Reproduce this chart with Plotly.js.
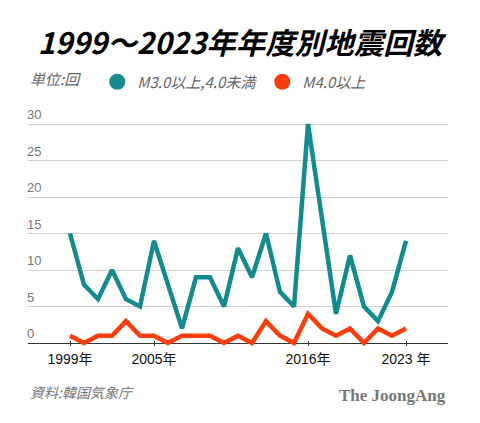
<!DOCTYPE html>
<html>
<head>
<meta charset="utf-8">
<script src="https://cdn.plot.ly/plotly-3.0.1.min.js"></script>
<style>
html,body{margin:0;padding:0;background:#fff;}
#chart{width:480px;height:423px;}
</style>
</head>
<body>
<div id="chart"></div>
<script>
const years = [1999,2000,2001,2002,2003,2004,2005,2006,2007,2008,2009,2010,2011,2012,2013,2014,2015,2016,2017,2018,2019,2020,2021,2022,2023];
const m3to4 = [15,8,6,10,6,5,14,8,2,9,9,5,13,9,15,7,5,30,17,4,12,5,3,7,14];
const m4plus = [1,0,1,1,3,1,1,0,1,1,1,0,1,0,3,1,0,4,2,1,2,0,2,1,2];
const seriesNames = ['M3.0以上,4.0未満', 'M4.0以上'];
const xTickVals = [1999, 2005, 2016, 2023];
const xTickText = ['1999年', '2005年', '2016年', '2023 年'];
const yTickVals = [0, 5, 10, 15, 20, 25, 30];

const teal = '#138a8e';
const red = '#fb3c0c';
const jp = '"Noto Sans CJK JP", "Noto Sans", sans-serif';
const sans = '"Liberation Sans", "Noto Sans CJK JP", sans-serif';

const traces = [
  {x: years, y: m3to4, mode: 'lines', line: {color: teal, width: 4.5}, showlegend: false, hoverinfo: 'skip'},
  {x: years, y: m4plus, mode: 'lines', line: {color: red, width: 4.5}, showlegend: false, hoverinfo: 'skip'},
  {x: [null], y: [null], mode: 'markers', name: seriesNames[0], marker: {color: teal, size: 16}},
  {x: [null], y: [null], mode: 'markers', name: seriesNames[1], marker: {color: red, size: 16}}
];

const layout = {
  width: 480, height: 423,
  paper_bgcolor: '#fff', plot_bgcolor: '#fff',
  margin: {l: 28, r: 32, t: 106, b: 77},
  title: {
    text: '1999～2023年年度別地震回数',
    font: {family: jp, size: 29.5, color: '#000', weight: 700, style: 'italic'},
    x: 0.5, xanchor: 'center', y: 1 - 44/423, yanchor: 'middle'
  },
  showlegend: true,
  legend: {
    orientation: 'h', x: 0, xanchor: 'left', y: 1.1, yanchor: 'middle',
    font: {family: jp, size: 15, color: '#666', style: 'italic'},
    title: {text: '単位:回&nbsp;&nbsp;&nbsp;', font: {family: jp, size: 15, color: '#666', style: 'italic'}},
    itemsizing: 'trace'
  },
  xaxis: {
    range: [1996, 2026], showgrid: false, zeroline: false, showline: false,
    tickmode: 'array', tickvals: xTickVals, ticktext: xTickText,
    ticks: 'inside', ticklen: 5, tickcolor: '#333', tickwidth: 1,
    ticklabelstandoff: 3,
    tickfont: {family: sans, size: 14, color: '#111'}
  },
  yaxis: {
    range: [-0.41, 32.47], showgrid: true, gridcolor: '#d0d0d0', gridwidth: 1,
    zeroline: true, zerolinecolor: '#333', zerolinewidth: 1, showline: false,
    tickmode: 'array', tickvals: yTickVals, ticks: '',
    ticklabelposition: 'inside top', ticklabelstandoff: -4,
    tickfont: {family: sans, size: 13, color: '#777'}
  },
  annotations: [
    {text: '資料:韓国気象庁', xref: 'paper', yref: 'paper', x: 0, y: -(392-346)/240, xanchor: 'left', yanchor: 'middle', showarrow: false,
     font: {family: jp, size: 14, color: '#777', style: 'italic'}},
    {text: '<b>The JoongAng</b>', xref: 'paper', yref: 'paper', x: 1, y: -(395-346)/240, xanchor: 'right', yanchor: 'middle', showarrow: false,
     font: {family: '"Liberation Serif", "DejaVu Serif", serif', size: 17, color: '#777'}}
  ]
};

Plotly.newPlot('chart', traces, layout, {displayModeBar: false, staticPlot: true});
</script>
</body>
</html>
